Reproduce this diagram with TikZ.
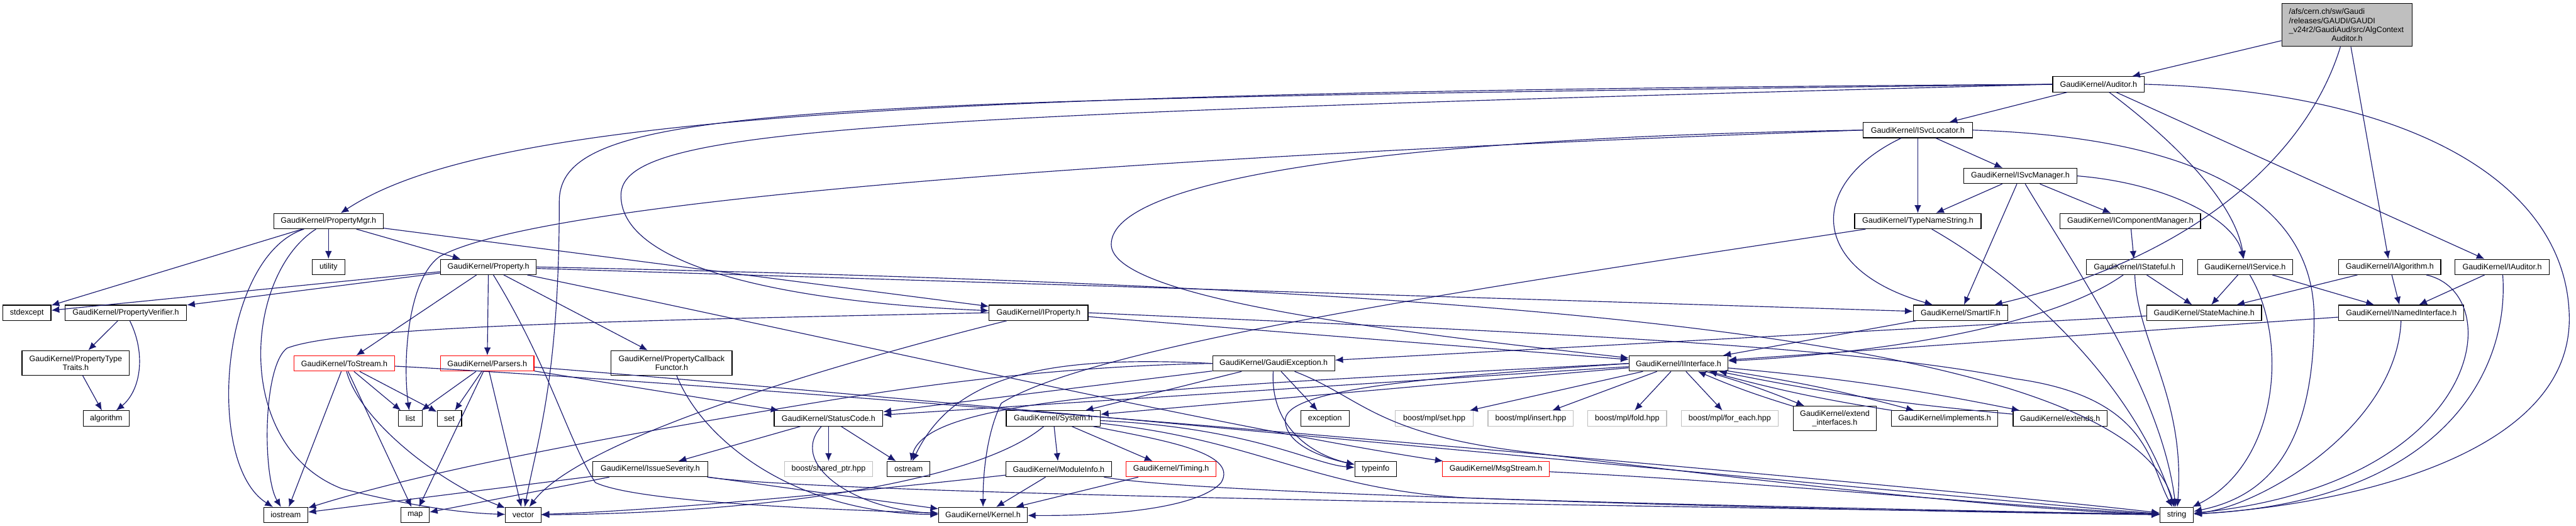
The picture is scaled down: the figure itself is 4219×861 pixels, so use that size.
\documentclass[tikz,border=0pt]{standalone}
\usepackage{fontspec}
\setmainfont{Liberation Sans}
\usetikzlibrary{arrows.meta}
\definecolor{inclblue}{HTML}{191970}
\definecolor{rootgray}{HTML}{BFBFBF}
\definecolor{extgray}{HTML}{BFBFBF}

\begin{document}
\begin{tikzpicture}[x=1pt, y=-1pt,
	hdr/.style={draw=black, line width=1.2pt, fill=white, minimum height=25pt, inner sep=3pt, align=center, font=\fontsize{12.9}{14.7}\selectfont},
	ext/.style={hdr, draw=extgray},
	trunc/.style={hdr, draw=red},
	mainfile/.style={hdr, fill=rootgray, align=left, text width=190pt, inner xsep=12pt, minimum height=70pt},
	incl/.style={draw=inclblue, line width=1.2pt, -{Latex[length=13pt, width=11pt]}}]
	\useasboundingbox (0, 0) rectangle (4219, 861);
	% Files and include arrows:
	\node[mainfile] (root) at (3844, 41) {/afs/cern.ch/sw/Gaudi\\/releases/GAUDI/GAUDI\\\_v24r2/GaudiAud/src/AlgContext\\\makebox[190pt]{Auditor.h}};
	\node[hdr, minimum width=150] (auditor) at (3437, 138) {GaudiKernel/Auditor.h};
	\node[hdr, minimum width=179] (isvcloc) at (3141, 213) {GaudiKernel/ISvcLocator.h};
	\node[hdr, minimum width=185] (isvcmgr) at (3309, 288) {GaudiKernel/ISvcManager.h};
	\node[hdr, minimum width=179] (propmgr) at (538, 362) {GaudiKernel/PropertyMgr.h};
	\node[hdr, minimum width=207] (typename) at (3141, 362) {GaudiKernel/TypeNameString.h};
	\node[hdr, minimum width=230] (icompmgr) at (3489, 362) {GaudiKernel/IComponentManager.h};
	\node[hdr, minimum width=54] (utility) at (538, 437) {utility};
	\node[hdr, minimum width=157] (property) at (800, 437) {GaudiKernel/Property.h};
	\node[hdr, minimum width=158] (istateful) at (3496, 437) {GaudiKernel/IStateful.h};
	\node[hdr, minimum width=156] (iservice) at (3677, 437) {GaudiKernel/IService.h};
	\node[hdr, minimum width=167] (ialgo) at (3914, 437) {GaudiKernel/IAlgorithm.h};
	\node[hdr, minimum width=154] (iauditor) at (4098, 437) {GaudiKernel/IAuditor.h};
	\node[hdr, minimum width=79] (stdexcept) at (44, 512) {stdexcept};
	\node[hdr, minimum width=199] (propverif) at (206, 512) {GaudiKernel/PropertyVerifier.h};
	\node[hdr, minimum width=162] (iproperty) at (1701, 512) {GaudiKernel/IProperty.h};
	\node[hdr, minimum width=155] (smartif) at (3211, 512) {GaudiKernel/SmartIF.h};
	\node[hdr, minimum width=188] (statemach) at (3610, 512) {GaudiKernel/StateMachine.h};
	\node[hdr, minimum width=205] (inamed) at (3933, 512) {GaudiKernel/INamedInterface.h};
	\node[hdr, minimum width=176, minimum height=40] (proptypetraits) at (124, 594) {GaudiKernel/PropertyType\\Traits.h};
	\node[trunc, minimum width=165] (tostream) at (564, 595) {GaudiKernel/ToStream.h};
	\node[trunc, minimum width=153] (parsers) at (798, 595) {GaudiKernel/Parsers.h};
	\node[hdr, minimum width=198, minimum height=40] (propcb) at (1100, 594) {GaudiKernel/PropertyCallback\\Functor.h};
	\node[hdr, minimum width=200] (gaudiexc) at (2086, 595) {GaudiKernel/GaudiException.h};
	\node[hdr, minimum width=162] (iinterface) at (2749, 595) {GaudiKernel/IInterface.h};
	\node[hdr, minimum width=75] (algorithm) at (174, 685) {algorithm};
	\node[hdr, minimum width=39] (list) at (672, 685) {list};
	\node[hdr, minimum width=40] (set) at (736, 685) {set};
	\node[hdr, minimum width=178] (statuscode) at (1357, 685) {GaudiKernel/StatusCode.h};
	\node[hdr, minimum width=154] (system) at (1725, 685) {GaudiKernel/System.h};
	\node[hdr, minimum width=79] (exception) at (2170, 685) {exception};
	\node[ext, minimum width=127] (mplset) at (2349, 685) {boost/mpl/set.hpp};
	\node[ext, minimum width=140] (mplinsert) at (2507, 685) {boost/mpl/insert.hpp};
	\node[ext, minimum width=129] (mplfold) at (2665, 685) {boost/mpl/fold.hpp};
	\node[ext, minimum width=159] (mplforeach) at (2833, 685) {boost/mpl/for\_each.hpp};
	\node[hdr, minimum width=136, minimum height=40] (extendif) at (3005, 685) {GaudiKernel/extend\\\_interfaces.h};
	\node[hdr, minimum width=174] (implements) at (3185, 685) {GaudiKernel/implements.h};
	\node[hdr, minimum width=154] (extends) at (3374, 685) {GaudiKernel/extends.h};
	\node[hdr, minimum width=188] (issue) at (1065, 768) {GaudiKernel/IssueSeverity.h};
	\node[ext, minimum width=144] (sharedptr) at (1357, 768) {boost/shared\_ptr.hpp};
	\node[hdr, minimum width=70] (ostream) at (1488, 768) {ostream};
	\node[hdr, minimum width=173] (moduleinfo) at (1734, 768) {GaudiKernel/ModuleInfo.h};
	\node[trunc, minimum width=147] (timing) at (1918, 768) {GaudiKernel/Timing.h};
	\node[hdr, minimum width=68] (typeinfo) at (2253, 768) {typeinfo};
	\node[trunc, minimum width=175] (msgstream) at (2450, 768) {GaudiKernel/MsgStream.h};
	\node[hdr, minimum width=72] (iostream) at (468, 843) {iostream};
	\node[hdr, minimum width=46] (map) at (680, 843) {map};
	\node[hdr, minimum width=58] (vector) at (857, 843) {vector};
	\node[hdr, minimum width=145] (kernel) at (1610, 843) {GaudiKernel/Kernel.h};
	\node[hdr, minimum width=55] (string) at (3565, 843) {string};
	\foreach \a/\b in {root/auditor, root/ialgo, auditor/isvcloc, auditor/iauditor, isvcloc/isvcmgr, isvcloc/typename, isvcmgr/typename, isvcmgr/icompmgr, isvcmgr/smartif, icompmgr/istateful, istateful/statemach, iservice/statemach, iservice/inamed, ialgo/statemach, ialgo/inamed, iauditor/inamed, inamed/iinterface, statemach/gaudiexc, smartif/iinterface, propmgr/stdexcept, propmgr/utility, propmgr/property, propmgr/iproperty, property/stdexcept, property/propverif, property/tostream, property/parsers, property/propcb, property/smartif, propverif/proptypetraits, proptypetraits/algorithm, tostream/iostream, tostream/list, tostream/set, tostream/map, parsers/list, parsers/set, parsers/map, parsers/vector, parsers/statuscode, statuscode/issue, statuscode/sharedptr, statuscode/ostream, issue/iostream, issue/map, issue/kernel, system/moduleinfo, system/timing, moduleinfo/kernel, timing/kernel, gaudiexc/exception, gaudiexc/system, gaudiexc/statuscode, iinterface/statuscode, iinterface/system, iinterface/mplset, iinterface/mplinsert, iinterface/mplfold, iinterface/mplforeach, iproperty/iinterface}
		\draw[incl] (\a) -- (\b);
	\draw[incl] (root) .. controls (3780, 250) and (3600, 420) .. (smartif);
	\draw[incl] (auditor) .. controls (3560, 230) and (3660, 330) .. (iservice);
	\draw[incl] (auditor.east) .. controls (3950, 150) and (4205, 300) .. (4208, 520) .. controls (4210, 760) and (3800, 830) .. (string);
	\draw[incl] (auditor.west) .. controls (1500, 150) and (800, 190) .. (propmgr);
	\draw[incl] (auditor.west) .. controls (1300, 165) and (916, 170) .. (916, 330) .. controls (916, 620) and (880, 720) .. (vector);
	\draw[incl] (auditor.west) .. controls (1400, 190) and (1017, 210) .. (1017, 320) .. controls (1017, 440) and (1300, 495) .. (iproperty);
	\draw[incl] (isvcloc) .. controls (2960, 300) and (2960, 440) .. (smartif);
	\draw[incl] (isvcloc.east) .. controls (3600, 225) and (3790, 330) .. (3790, 520) .. controls (3790, 750) and (3700, 815) .. (string);
	\draw[incl] (isvcloc.west) .. controls (2300, 225) and (1820, 290) .. (1820, 400) .. controls (1820, 490) and (2300, 545) .. (iinterface);
	\draw[incl] (isvcloc.west) .. controls (2000, 250) and (900, 320) .. (720, 420) .. controls (665, 460) and (660, 600) .. (list);
	\draw[incl] (isvcmgr.east) .. controls (3550, 300) and (3660, 360) .. (iservice);
	\draw[incl] (isvcmgr) .. controls (3400, 440) and (3540, 640) .. (string);
	\draw[incl] (typename) .. controls (2500, 460) and (1800, 560) .. (1640, 660) .. controls (1620, 700) and (1610, 760) .. (kernel);
	\draw[incl] (typename) .. controls (3330, 470) and (3500, 640) .. (string);
	\draw[incl] (istateful) .. controls (3350, 540) and (3050, 580) .. (iinterface);
	\draw[incl] (istateful) .. controls (3500, 560) and (3580, 650) .. (string);
	\draw[incl] (iservice) .. controls (3750, 560) and (3730, 760) .. (string);
	\draw[incl] (ialgo) .. controls (4110, 480) and (4070, 790) .. (string);
	\draw[incl] (iauditor) .. controls (4110, 600) and (4010, 820) .. (string);
	\draw[incl] (inamed) .. controls (3925, 700) and (3700, 830) .. (string);
	\draw[incl] (propmgr) .. controls (360, 420) and (335, 760) .. (iostream);
	\draw[incl] (propmgr) .. controls (400, 450) and (380, 730) .. (560, 800) .. controls (680, 830) and (760, 840) .. (vector);
	\draw[incl] (propverif) .. controls (240, 580) and (230, 640) .. (algorithm);
	\draw[incl] (property) .. controls (900, 600) and (930, 720) .. (975, 790) .. controls (1050, 825) and (1400, 835) .. (kernel);
	\draw[incl] (property) .. controls (1300, 540) and (2000, 700) .. (msgstream);
	\draw[incl] (property.east) .. controls (2400, 470) and (3480, 540) .. (string);
	\draw[incl] (propcb) .. controls (1150, 720) and (1300, 840) .. (kernel);
	\draw[incl] (tostream) .. controls (590, 690) and (720, 790) .. (vector);
	\draw[incl] (tostream) .. controls (1400, 640) and (3200, 800) .. (string);
	\draw[incl] (parsers) .. controls (1500, 650) and (3250, 820) .. (string);
	\draw[incl] (statuscode) .. controls (1290, 760) and (1400, 835) .. (kernel);
	\draw[incl] (issue) .. controls (1400, 815) and (3200, 835) .. (string);
	\draw[incl] (system) .. controls (1600, 790) and (1250, 840) .. (vector);
	\draw[incl] (system) .. controls (1900, 720) and (2030, 740) .. (2000, 790) .. controls (1960, 835) and (1800, 845) .. (kernel);
	\draw[incl] (system) .. controls (2050, 700) and (2150, 760) .. (typeinfo);
	\draw[incl] (system) .. controls (2060, 720) and (2150, 800) .. (2400, 815) .. controls (2800, 830) and (3300, 840) .. (string);
	\draw[incl] (moduleinfo) .. controls (1450, 800) and (1100, 835) .. (vector);
	\draw[incl] (moduleinfo) .. controls (2000, 815) and (3200, 835) .. (string);
	\draw[incl] (gaudiexc) .. controls (2080, 700) and (2150, 745) .. (typeinfo);
	\draw[incl] (gaudiexc.west) .. controls (1700, 600) and (1450, 640) .. (1300, 665) .. controls (1000, 715) and (700, 770) .. (iostream);
	\draw[incl] (gaudiexc) .. controls (2230, 650) and (2250, 710) .. (2500, 740) .. controls (2900, 790) and (3300, 835) .. (string);
	\draw[incl] (gaudiexc.west) .. controls (1700, 580) and (1560, 620) .. (ostream);
	\draw[incl] (iinterface.west) .. controls (1900, 635) and (1520, 650) .. (ostream);
	\draw[incl] (iinterface.west) .. controls (2300, 620) and (2100, 640) .. (2105, 690) .. controls (2108, 730) and (2170, 750) .. (typeinfo);
	\draw[incl] (iinterface) to[bend left=3] (extendif);
	\draw[incl] (extendif) to[bend left=3] (iinterface);
	\draw[incl] (iinterface) to[bend left=3] (implements);
	\draw[incl] (implements) to[bend left=3] (iinterface);
	\draw[incl] (iinterface) to[bend left=3] (extends);
	\draw[incl] (extends) to[bend left=3] (iinterface);
	\draw[incl] (msgstream) .. controls (2900, 790) and (3300, 830) .. (string);
	\draw[incl] (iproperty.east) .. controls (2400, 540) and (3000, 560) .. (3300, 620) .. controls (3520, 650) and (3520, 760) .. (string);
	\draw[incl] (iproperty.west) .. controls (1000, 525) and (560, 535) .. (470, 570) .. controls (430, 600) and (430, 780) .. (iostream);
	\draw[incl] (iproperty) .. controls (1350, 600) and (950, 720) .. (vector);
\end{tikzpicture}
\end{document}
